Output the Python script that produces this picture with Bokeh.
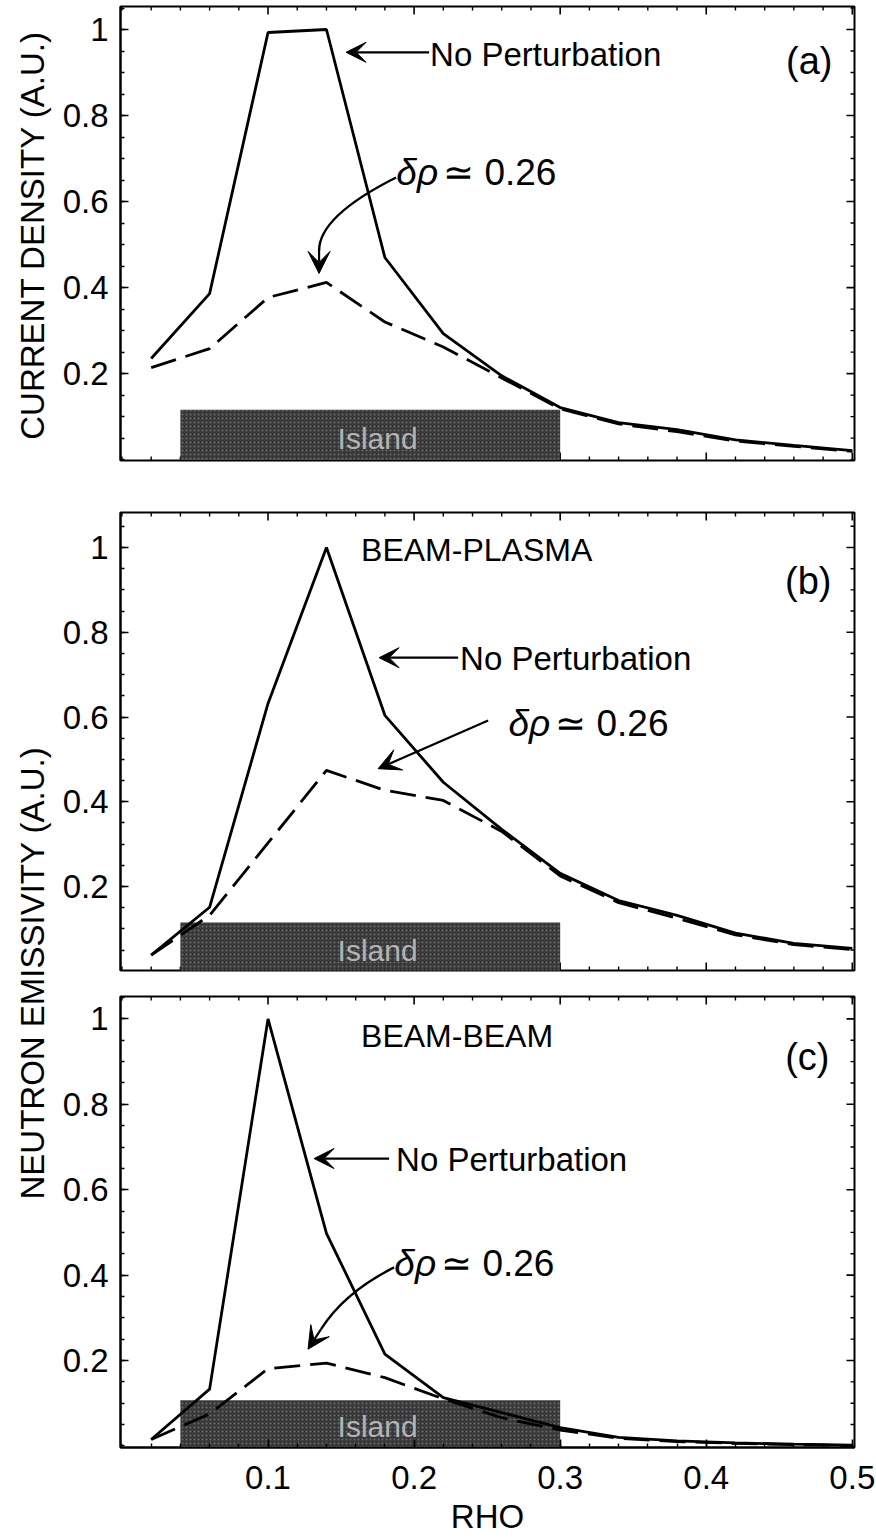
import math

from bokeh.embed import file_html
from bokeh.layouts import column, row
from bokeh.models import (Arrow, CustomJSTickFormatter, FixedTicker, Label,
                          Range1d, VeeHead)
from bokeh.core.properties import value
from bokeh.plotting import figure
from bokeh.resources import INLINE

FONT = "Liberation Sans"

# ---- profiles on the radial grid ------------------------------------------
rho = [0.02, 0.06, 0.10, 0.14, 0.18, 0.22, 0.26, 0.30, 0.34, 0.38, 0.42, 0.46, 0.50]

current_no_pert = [0.235, 0.386, 0.993, 1.000, 0.470, 0.293, 0.195, 0.121, 0.086, 0.070, 0.046, 0.033, 0.021]
current_island = [0.214, 0.258, 0.377, 0.412, 0.320, 0.262, 0.190, 0.118, 0.083, 0.065, 0.043, 0.031, 0.019]

bp_no_pert = [0.038, 0.151, 0.632, 1.000, 0.604, 0.446, 0.335, 0.231, 0.167, 0.132, 0.090, 0.066, 0.054]
bp_island = [0.038, 0.132, 0.303, 0.474, 0.427, 0.403, 0.330, 0.225, 0.162, 0.125, 0.086, 0.063, 0.051]

bb_no_pert = [0.015, 0.133, 1.000, 0.498, 0.215, 0.113, 0.078, 0.043, 0.020, 0.012, 0.007, 0.004, 0.002]
bb_island = [0.015, 0.075, 0.181, 0.194, 0.160, 0.110, 0.066, 0.037, 0.018, 0.010, 0.006, 0.003, 0.001]

# island extent (rho) and bar heights per panel
island_rho = [0.04, 0.30]
island_height = [0.116, 0.115, 0.107]

y_ticks = [0.2, 0.4, 0.6, 0.8, 1.0]
y_minor = [round(0.05 * i, 2) for i in range(0, 22)]
x_ticks = [0.1, 0.2, 0.3, 0.4, 0.5]
x_minor = [round(0.02 * i, 2) for i in range(0, 26)]

X_RANGE = (-0.001, 0.5015)
LAB_W = 56
FIG_W = 876 - LAB_W
BORDER_L = 120 - LAB_W
BORDER_R = 22
FRAME_W = FIG_W - BORDER_L - BORDER_R

MAJOR_LEN = 8
MINOR_LEN = 4


def pxx(X):
    """horizontal page pixel -> rho"""
    return (X - 121.0) / 1460.0


fmt = CustomJSTickFormatter(code="return String(Math.round(tick * 100) / 100);")


def style_axis(ax, ticks, minor, standoff):
    ax.ticker = FixedTicker(ticks=ticks, minor_ticks=minor)
    ax.formatter = fmt
    ax.axis_line_color = "black"
    ax.axis_line_width = 2
    ax.major_tick_in = MAJOR_LEN
    ax.major_tick_out = 0
    ax.minor_tick_in = MINOR_LEN
    ax.minor_tick_out = 0
    ax.major_tick_line_width = 1.6
    ax.minor_tick_line_width = 1.4
    ax.major_tick_line_color = "black"
    ax.minor_tick_line_color = "black"
    ax.major_label_text_font = FONT
    ax.major_label_text_font_size = "33px"
    ax.major_label_text_color = "black"
    ax.major_label_standoff = standoff


def mirror_ticks(p, yr, frame_h, bottom_too):
    """inward tick marks on the top, right (and optionally bottom) frame edges"""
    kx = FRAME_W / (X_RANGE[1] - X_RANGE[0])
    ky = frame_h / (yr[1] - yr[0])
    xs0, ys0, xs1, ys1, widths = [], [], [], [], []
    for t in x_minor:
        length = MAJOR_LEN if t in x_ticks else MINOR_LEN
        w = 1.6 if t in x_ticks else 1.4
        edges = [(yr[1], -1)] + ([(yr[0], 1)] if bottom_too else [])
        for edge, sgn in edges:
            xs0.append(t); xs1.append(t)
            ys0.append(edge); ys1.append(edge + sgn * length / ky)
            widths.append(w)
    for t in y_minor:
        if t <= yr[0] or t >= yr[1]:
            continue
        length = MAJOR_LEN if t in y_ticks else MINOR_LEN
        w = 1.6 if t in y_ticks else 1.4
        xs0.append(X_RANGE[1]); xs1.append(X_RANGE[1] - length / kx)
        ys0.append(t); ys1.append(t)
        widths.append(w)
    p.segment(x0=xs0, y0=ys0, x1=xs1, y1=ys1, line_color="black", line_width=widths)


def panel(height, yr, top, bottom, x_labels):
    p = figure(width=FIG_W, height=height, x_range=Range1d(*X_RANGE), y_range=Range1d(*yr),
               output_backend="svg", toolbar_location=None,
               x_axis_location="below" if x_labels else None,
               min_border_left=BORDER_L, min_border_right=BORDER_R,
               min_border_top=top, min_border_bottom=bottom)
    p.grid.visible = False
    p.outline_line_color = "black"
    p.outline_line_width = 2
    p.background_fill_color = "white"
    p.border_fill_color = "white"
    style_axis(p.yaxis[0], y_ticks, y_minor, 12)
    if x_labels:
        style_axis(p.xaxis[0], x_ticks, x_minor, 18)
    mirror_ticks(p, yr, height - top - bottom, not x_labels)
    return p


def draw_profiles(p, solid, dashed, bar_h):
    p.quad(left=[island_rho[0]], right=[island_rho[1]], bottom=[0], top=[bar_h],
           fill_color="#383838", line_color=None,
           hatch_pattern="dot", hatch_color="#8c8c8c", hatch_scale=4, hatch_weight=1.2,
           hatch_alpha=0.6)
    p.text(x=[(island_rho[0] + island_rho[1]) / 2 + 0.005], y=[bar_h * 0.42], text=["Island"],
           text_font=value(FONT), text_font_size="30px", text_color="#b4b4b4",
           text_align="center", text_baseline="middle")
    p.line(rho, dashed, line_color="black", line_width=2.8, line_dash="26 10")
    p.line(rho, solid, line_color="black", line_width=2.8)


def text(p, x, y, s, size, align="left", style="normal"):
    p.add_layout(Label(x=x, y=y, text=s, text_font=FONT, text_font_size=size,
                       text_color="black", text_align=align, text_baseline="middle",
                       text_font_style=style))


def arrow(p, x0, y0, x1, y1, size=20):
    p.add_layout(Arrow(end=VeeHead(size=size, fill_color="black", line_color="black", line_width=1),
                       x_start=x0, y_start=y0, x_end=x1, y_end=y1,
                       line_color="black", line_width=2.2))


def delta_label(p, X, y):
    text(p, pxx(X + 32), y, "δρ", "37px", align="right", style="italic")
    text(p, pxx(X + 37), y, "≃ 0.26", "37px")


# ---- (a) current density ----------------------------------------------------
pa = panel(488, (-0.002, 1.0535), 6, 28, False)
draw_profiles(pa, current_no_pert, current_island, island_height[0])
arrow(pa, pxx(428), 0.947, pxx(345), 0.947)
text(pa, pxx(429), 0.941, "No Perturbation", "33px")
text(pa, pxx(808), 0.926, "(a)", "38px", align="center")
delta_label(pa, 405, 0.667)
pa.quadratic(x0=[pxx(395)], y0=[0.656], x1=[pxx(318)], y1=[0.486],
             cx=[pxx(318)], cy=[0.566], line_color="black", line_width=2.4)
arrow(pa, pxx(318), 0.49, pxx(318), 0.433, size=22)

# ---- (b) beam-plasma neutron emissivity --------------------------------------
pb = panel(497, (0.0018, 1.0826), 24, 15, False)
draw_profiles(pb, bp_no_pert, bp_island, island_height[1])
text(pb, pxx(360), 0.995, "BEAM-PLASMA", "32px")
text(pb, pxx(807), 0.922, "(b)", "38px", align="center")
arrow(pb, pxx(457), 0.74, pxx(378), 0.74)
text(pb, pxx(459), 0.737, "No Perturbation", "33px")
delta_label(pb, 517, 0.585)
arrow(pb, pxx(487), 0.592, pxx(377), 0.478, size=22)

# ---- (c) beam-beam neutron emissivity ----------------------------------------
pc = panel(553, (-0.0037, 1.0525), 11, 91, True)
draw_profiles(pc, bb_no_pert, bb_island, island_height[2])
xax = pc.below[0]
xax.axis_label = "RHO"
xax.axis_label_text_font = FONT
xax.axis_label_text_font_size = "33px"
xax.axis_label_text_font_style = "normal"
xax.axis_label_text_color = "black"
xax.axis_label_standoff = 6
text(pc, pxx(360), 0.961, "BEAM-BEAM", "32px")
text(pc, pxx(806), 0.91, "(c)", "38px", align="center")
arrow(pc, pxx(388), 0.673, pxx(313), 0.673)
text(pc, pxx(395), 0.67, "No Perturbation", "33px")
delta_label(pc, 403, 0.427)
pc.quadratic(x0=[pxx(393)], y0=[0.418], x1=[pxx(320)], y1=[0.2735],
             cx=[pxx(343.6)], cy=[0.36], line_color="black", line_width=2.4)
arrow(pc, pxx(320), 0.2735, pxx(307), 0.2266, size=22)


# ---- rotated axis titles ------------------------------------------------------
def title_strip(height, y_center_from_top, s):
    f = figure(width=LAB_W, height=height, x_range=Range1d(0, LAB_W), y_range=Range1d(0, height),
               output_backend="svg", toolbar_location=None, min_border=0,
               x_axis_location=None, y_axis_location=None)
    f.grid.visible = False
    f.outline_line_color = None
    f.add_layout(Label(x=32, y=height - y_center_from_top, text=s, angle=math.pi / 2,
                       text_font=FONT, text_font_size="33px", text_color="black",
                       text_align="center", text_baseline="middle"))
    return f


lab_a = title_strip(488, 246, "CURRENT DENSITY (A.U.)")
lab_bc = title_strip(1050, 968 - 488, "NEUTRON EMISSIVITY  (A.U.)")

layout = column(row(lab_a, pa), row(lab_bc, column(pb, pc)))

open("out.html", "w").write(file_html(layout, INLINE))
